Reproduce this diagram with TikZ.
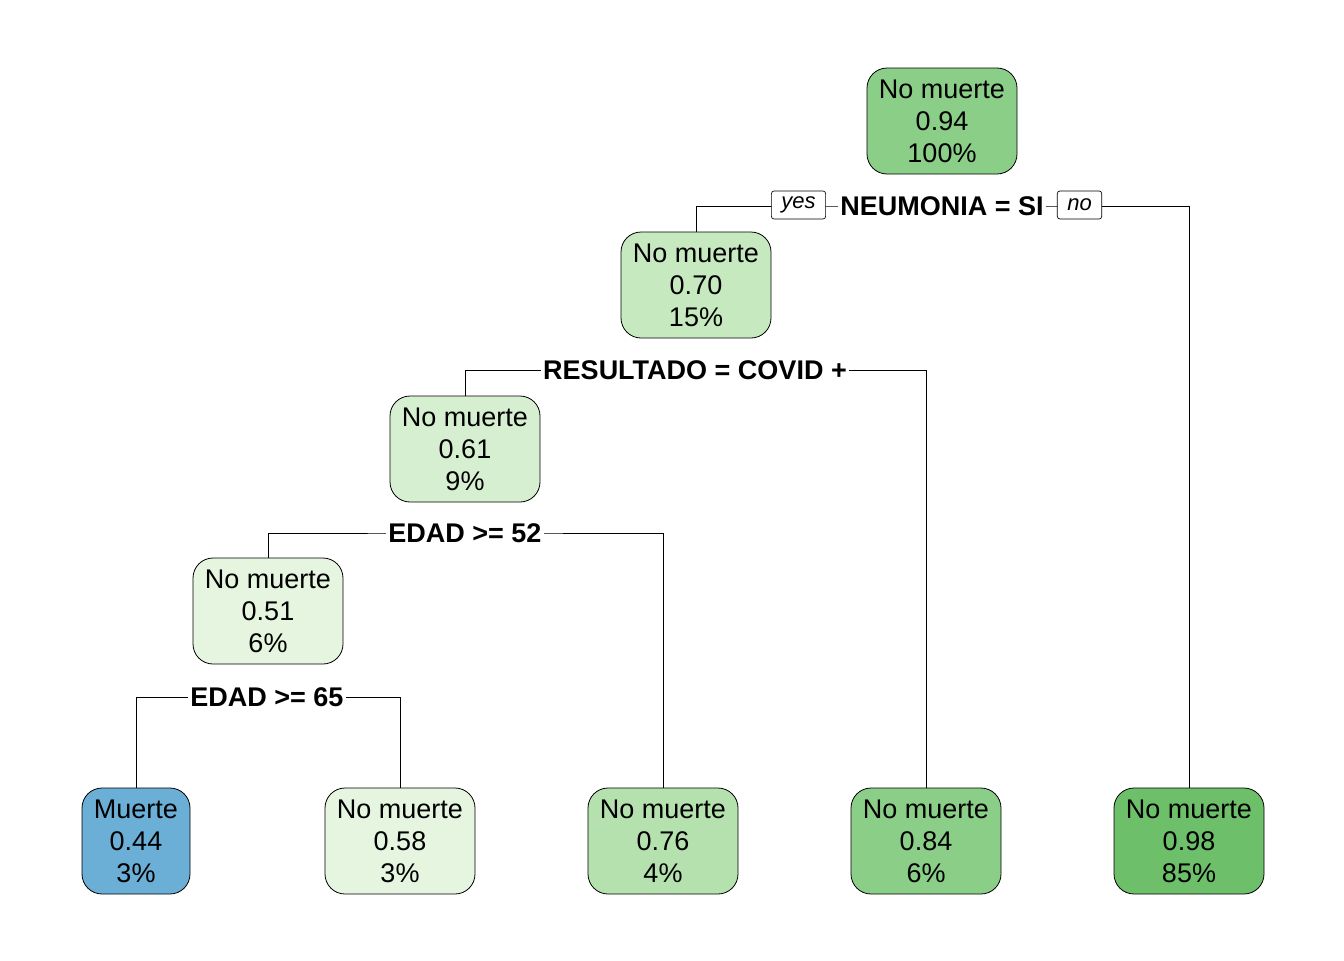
\documentclass[tikz,border=0pt]{standalone}
\usepackage{fontspec}
\setmainfont{Liberation Sans}
\usetikzlibrary{backgrounds}
\definecolor{gA}{HTML}{8ACE88}
\definecolor{gB}{HTML}{C7E9C0}
\definecolor{gC}{HTML}{D7EFD1}
\definecolor{gD}{HTML}{E5F5E0}
\definecolor{gE}{HTML}{B5E1AE}
\definecolor{gF}{HTML}{8ACE88}
\definecolor{gG}{HTML}{6DBF6A}
\definecolor{bM}{HTML}{6BAED6}
\tikzset{
  leafbox/.style={draw=black, line width=0.6pt, rounded corners=15pt, align=center,
    minimum width=112.5pt, minimum height=79.5pt, inner sep=0pt, text depth=0pt,
    execute at begin node={\vspace*{3pt}},
    font=\fontsize{20.25}{24}\selectfont},
  splitlab/.style={fill=white, inner sep=1.5pt, font=\bfseries\fontsize{20.25}{22}\selectfont},
  yn/.style={draw=black, line width=0.5pt, rounded corners=2pt, fill=white, inner ysep=0pt, inner xsep=7.5pt,
    minimum height=21pt, font=\itshape\fontsize{16.5}{18}\selectfont},
  conn/.style={draw=black, line width=0.6pt}
}
\begin{document}
\begin{tikzpicture}[x=0.75pt, y=-0.75pt]
\useasboundingbox (0,0) rectangle (1344,960);
% internal nodes
\node[leafbox, fill=gA] (n1) at (942,121) {No muerte\\0.94\\100\%};
\node[leafbox, fill=gB] (n2) at (696,285) {No muerte\\0.70\\15\%};
\node[leafbox, fill=gC] (n3) at (465,449) {No muerte\\0.61\\9\%};
\node[leafbox, fill=gD] (n4) at (268,611) {No muerte\\0.51\\6\%};
% leaves
\node[leafbox, fill=bM, minimum width=81pt] (l1) at (136,841) {Muerte\\0.44\\3\%};
\node[leafbox, fill=gD] (l2) at (400,841) {No muerte\\0.58\\3\%};
\node[leafbox, fill=gE] (l3) at (663,841) {No muerte\\0.76\\4\%};
\node[leafbox, fill=gF] (l4) at (926,841) {No muerte\\0.84\\6\%};
\node[leafbox, fill=gG] (l5) at (1189,841) {No muerte\\0.98\\85\%};
% split labels
\node[splitlab] (s1) at (942,206) {NEUMONIA = SI};
\node[yn] (yes) at (798.5,205) {yes};
\node[yn] (no) at (1079.5,205) {no};
\node[splitlab] (s2) at (695,370) {RESULTADO = COVID +};
\node[splitlab] (s3) at (465,533) {EDAD >= 52};
\node[splitlab] (s4) at (267,697) {EDAD >= 65};
\begin{scope}[on background layer]
\draw[conn] (n2.north) |- (s1.center) -| (l5.north);
\draw[conn] (n3.north) |- (s2.center) -| (l4.north);
\draw[conn] (n4.north) |- (s3.center) -| (l3.north);
\draw[conn] (l1.north) |- (s4.center) -| (l2.north);
\end{scope}
\end{tikzpicture}
\end{document}
